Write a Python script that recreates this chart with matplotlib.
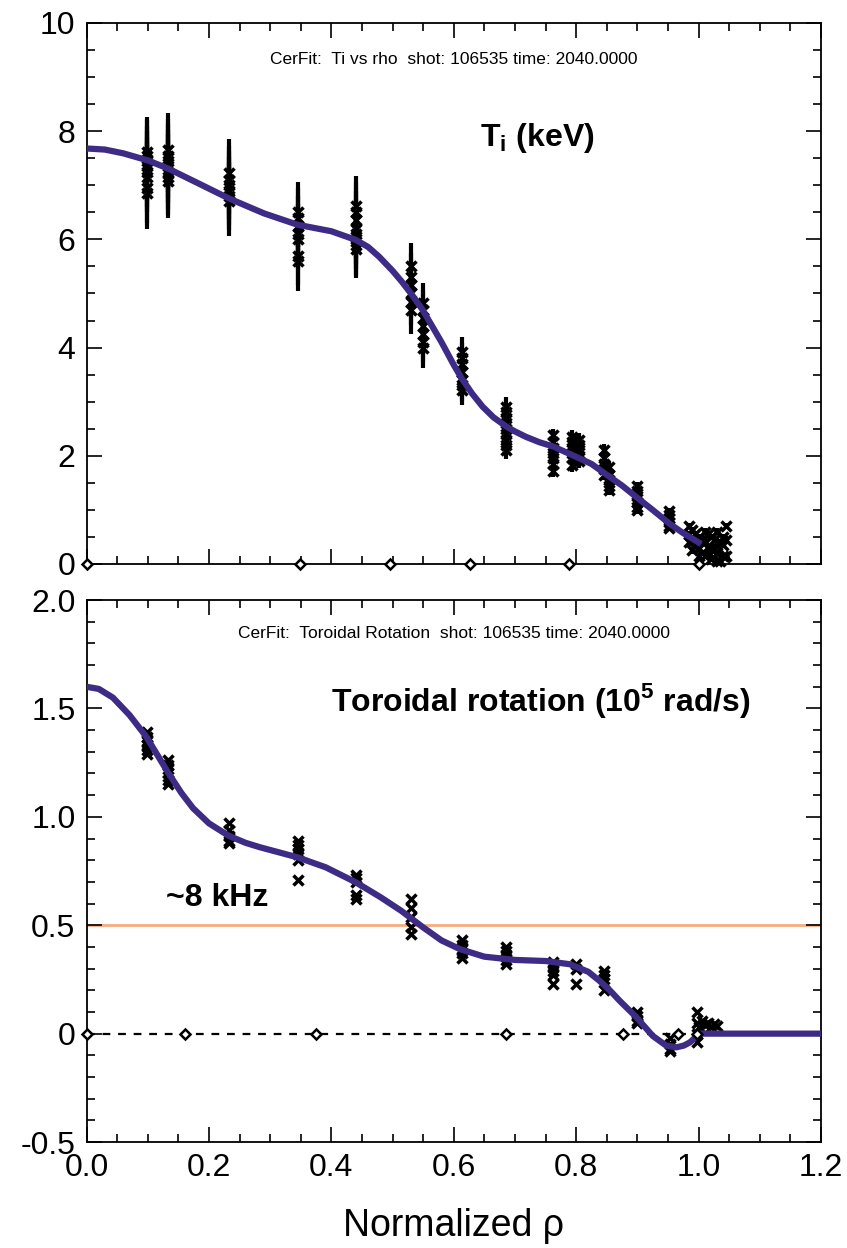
import matplotlib
matplotlib.use('Agg')
import matplotlib.pyplot as plt
from matplotlib.ticker import MultipleLocator, FuncFormatter

plt.rcParams['font.family'] = ['Liberation Sans', 'DejaVu Sans']
plt.rcParams['mathtext.fontset'] = 'custom'
plt.rcParams['mathtext.rm'] = 'Liberation Sans:bold'
plt.rcParams['mathtext.bf'] = 'Liberation Sans:bold'

# ---- Ti (keV) ----
ti_rho = [0.098, 0.133, 0.232, 0.345, 0.440, 0.530, 0.549, 0.613,
          0.686, 0.763, 0.794, 0.805, 0.846, 0.854, 0.899, 0.952]
ti_vals = [
    [7.62, 7.55, 7.45, 7.35, 7.25, 7.15, 6.95, 6.85],
    [7.65, 7.55, 7.45, 7.35, 7.25, 7.15, 7.07],
    [7.22, 7.10, 7.00, 6.90, 6.80, 6.70],
    [6.51, 6.40, 6.25, 6.10, 6.00, 5.70, 5.60],
    [6.62, 6.50, 6.35, 6.20, 6.10, 6.00, 5.90, 5.83],
    [5.50, 5.30, 5.15, 5.00, 4.85, 4.70],
    [4.83, 4.70, 4.55, 4.40, 4.25, 4.10, 3.99],
    [3.92, 3.80, 3.70, 3.55, 3.40, 3.30, 3.22],
    [2.91, 2.80, 2.70, 2.60, 2.50, 2.40, 2.30, 2.20, 2.11],
    [2.38, 2.25, 2.15, 2.05, 1.95, 1.85, 1.71],
    [2.35, 2.25, 2.15, 2.05, 1.95, 1.83],
    [2.30, 2.20, 2.10, 2.00, 1.90],
    [2.11, 1.95, 1.85, 1.75, 1.65],
    [1.80, 1.65, 1.55, 1.45, 1.37],
    [1.45, 1.35, 1.25, 1.15, 1.05, 1.00],
    [0.98, 0.90, 0.85, 0.78, 0.70, 0.66],
]
ti_errs = [0.65, 0.68, 0.63, 0.55, 0.55, 0.44, 0.36, 0.28,
           0.17, 0.11, 0.13, 0.12, 0.10, 0.10, 0.07, 0.05]
# edge channels, rho 0.98 - 1.05
ti_edge_rho = [0.985, 0.985, 0.985, 0.990, 0.990, 0.990, 0.995, 0.995, 1.000, 1.000,
               1.000, 1.005, 1.005, 1.010, 1.010, 1.010, 1.015, 1.015, 1.020, 1.020,
               1.020, 1.025, 1.025, 1.030, 1.030, 1.030, 1.035, 1.035, 1.040, 1.040,
               1.040, 1.045, 1.045, 1.045]
ti_edge_val = [0.70, 0.55, 0.40, 0.45, 0.62, 0.25, 0.35, 0.55, 0.50, 0.30, 0.15,
               0.20, 0.45, 0.40, 0.15, 0.60, 0.55, 0.30, 0.30, 0.10, 0.50, 0.45,
               0.25, 0.20, 0.60, 0.05, 0.05, 0.40, 0.35, 0.50, 0.15, 0.70, 0.15, 0.45]
ti_edge_err = 0.06

ti_fit_rho = [0.00, 0.03, 0.06, 0.10, 0.133, 0.18, 0.232, 0.29, 0.345, 0.40, 0.44, 0.46,
              0.478, 0.50, 0.515, 0.53, 0.549, 0.58, 0.60, 0.613, 0.63, 0.647, 0.665,
              0.686, 0.70, 0.718, 0.74, 0.763, 0.80, 0.825, 0.846, 0.875, 0.898, 0.925,
              0.952, 0.975, 1.00]
ti_fit = [7.68, 7.66, 7.59, 7.46, 7.31, 7.05, 6.76, 6.48, 6.27, 6.15, 5.99, 5.86,
          5.68, 5.42, 5.22, 5.00, 4.70, 4.10, 3.68, 3.43, 3.15, 2.91, 2.71,
          2.54, 2.45, 2.35, 2.25, 2.17, 1.98, 1.85, 1.68, 1.45, 1.24, 1.00,
          0.75, 0.57, 0.40]
ti_knots = [0.0, 0.349, 0.496, 0.627, 0.789, 1.0]

# ---- Toroidal rotation (1e5 rad/s) ----
rot_rho = [0.098, 0.133, 0.232, 0.345, 0.440, 0.530, 0.613, 0.686,
           0.763, 0.800, 0.846, 0.899, 0.953]
rot_vals = [
    [1.39, 1.37, 1.35, 1.33, 1.31, 1.29],
    [1.26, 1.24, 1.22, 1.20, 1.17, 1.15],
    [0.97, 0.94, 0.91, 0.89, 0.88],
    [0.89, 0.87, 0.85, 0.83, 0.80, 0.71],
    [0.73, 0.72, 0.70, 0.64, 0.62],
    [0.62, 0.58, 0.54, 0.49, 0.46],
    [0.43, 0.41, 0.39, 0.37, 0.35],
    [0.40, 0.38, 0.36, 0.34, 0.32],
    [0.33, 0.31, 0.29, 0.27, 0.23],
    [0.32, 0.30, 0.23],
    [0.29, 0.27, 0.25, 0.20],
    [0.10, 0.08, 0.06, 0.05],
    [-0.02, -0.05, -0.07, -0.08],
]
rot_edge_rho = [0.997, 0.997, 0.997, 0.997, 1.000, 1.005, 1.010, 1.015, 1.020, 1.025, 1.030]
rot_edge_val = [0.098, -0.04, 0.05, 0.0, 0.03, 0.06, 0.04, 0.05, 0.03, 0.045, 0.035]

rot_fit_rho = [0.00, 0.02, 0.043, 0.07, 0.0975, 0.133, 0.155, 0.174, 0.20, 0.232, 0.26,
               0.283, 0.345, 0.391, 0.44, 0.48, 0.514, 0.55, 0.58, 0.61, 0.65, 0.70,
               0.75, 0.79, 0.82, 0.838, 0.855, 0.871, 0.898, 0.925, 0.947, 0.964,
               0.976, 0.986, 1.002, 1.2]
rot_fit = [1.60, 1.59, 1.55, 1.47, 1.37, 1.205, 1.11, 1.04, 0.97, 0.913, 0.88,
           0.86, 0.813, 0.767, 0.698, 0.63, 0.567, 0.49, 0.43, 0.39, 0.355, 0.34,
           0.335, 0.32, 0.285, 0.244, 0.20, 0.152, 0.077, -0.01, -0.055, -0.063,
           -0.055, -0.04, 0.0, 0.0]
rot_knots = [0.0, 0.161, 0.375, 0.685, 0.877, 0.967, 0.998]
f_8khz = 0.5

PURPLE = '#3d2b86'
ORANGE = '#f5ad80'

fig = plt.figure(figsize=(8.47, 12.48), dpi=100)
ax1 = fig.add_axes([0.1022, 0.5481, 0.867, 0.4335])
ax2 = fig.add_axes([0.1022, 0.0849, 0.867, 0.4343])


def style(ax, ymaj, ymin, fmt):
    ax.set_xlim(0, 1.2)
    ax.xaxis.set_major_locator(MultipleLocator(0.2))
    ax.xaxis.set_minor_locator(MultipleLocator(0.05))
    ax.yaxis.set_major_locator(MultipleLocator(ymaj))
    ax.yaxis.set_minor_locator(MultipleLocator(ymin))
    ax.tick_params(which='both', direction='in', top=True, right=True, width=1.2)
    ax.tick_params(which='major', length=11, labelsize=23, pad=8)
    ax.tick_params(which='minor', length=6)
    ax.yaxis.set_major_formatter(FuncFormatter(fmt))
    ax.xaxis.set_major_formatter(FuncFormatter(lambda v, p: f'{v:.1f}'))
    for s in ax.spines.values():
        s.set_linewidth(1.3)


# top panel
style(ax1, 2, 0.5, lambda v, p: f'{v:.0f}')
ax1.set_ylim(0, 10)
ax1.tick_params(labelbottom=False)
for r, vals, e in zip(ti_rho, ti_vals, ti_errs):
    ax1.errorbar([r] * len(vals), vals, yerr=e, fmt='x', color='black',
                 ms=7, mew=2.5, elinewidth=3, capsize=0)
ax1.errorbar(ti_edge_rho, ti_edge_val, yerr=ti_edge_err, fmt='x', color='black',
             ms=7, mew=2.5, elinewidth=3, capsize=0, clip_on=False)
ax1.plot(ti_fit_rho, ti_fit, color=PURPLE, lw=4.5, zorder=5)
ax1.plot(ti_knots, [0] * len(ti_knots), 'D', ms=5, mfc='white', mec='black',
         mew=1.8, clip_on=False, zorder=6)
ax1.text(0.6, 9.32, 'CerFit:  Ti vs rho  shot: 106535 time: 2040.0000',
         ha='center', va='center', fontsize=12.5)
ax1.text(0.643, 7.72, r'T$_{\mathrm{i}}$ (keV)', fontsize=23, fontweight='bold')

# bottom panel
style(ax2, 0.5, 0.1, lambda v, p: '0' if abs(v) < 1e-9 else f'{v:.1f}')
ax2.set_ylim(-0.5, 2.0)
ax2.axhline(0, color='black', lw=1.6, ls=(0, (3.5, 3.5)), zorder=1)
ax2.axhline(f_8khz, color=ORANGE, lw=2, zorder=1)
for r, vals in zip(rot_rho, rot_vals):
    ax2.plot([r] * len(vals), vals, 'x', color='black', ms=7, mew=2.5)
ax2.plot(rot_edge_rho, rot_edge_val, 'x', color='black', ms=7, mew=2.5)
ax2.plot(rot_fit_rho, rot_fit, color=PURPLE, lw=4.5, zorder=5)
ax2.plot(rot_knots, [0] * len(rot_knots), 'D', ms=5, mfc='white', mec='black',
         mew=1.8, clip_on=False, zorder=6)
ax2.text(0.6, 1.845, 'CerFit:  Toroidal Rotation  shot: 106535 time: 2040.0000',
         ha='center', va='center', fontsize=12.5)
ax2.text(0.40, 1.49, r'Toroidal rotation (10$^{\mathrm{5}}$ rad/s)',
         fontsize=23, fontweight='bold')
ax2.text(0.13, 0.59, '~8 kHz', fontsize=23, fontweight='bold')
ax2.set_xlabel('Normalized ρ', fontsize=27, labelpad=18)

fig.savefig('out.png', dpi=100)
